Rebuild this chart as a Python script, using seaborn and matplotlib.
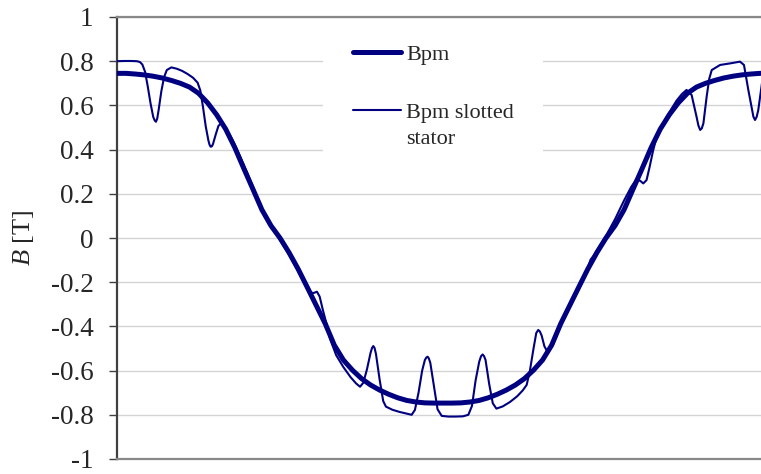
import matplotlib
matplotlib.use("Agg")
import matplotlib.pyplot as plt
from matplotlib.patches import Rectangle
from matplotlib.transforms import IdentityTransform
import pandas as pd
import seaborn as sns

# Rotor position (electrical degrees) and air-gap flux density of the magnets, smooth stator
angle_pm = list(range(0, 365, 5))
b_pm = [0.745, 0.745, 0.742, 0.738, 0.732, 0.724, 0.713, 0.700, 0.683, 0.655,
        0.612, 0.558, 0.493, 0.410, 0.315, 0.222, 0.128, 0.056, 0.000, -0.066,
        -0.140, -0.222, -0.305, -0.388, -0.485, -0.552, -0.598, -0.636, -0.665, -0.688,
        -0.707, -0.723, -0.735, -0.742, -0.746, -0.747, -0.747, -0.747, -0.746, -0.742,
        -0.735, -0.723, -0.707, -0.688, -0.665, -0.636, -0.598, -0.552, -0.485, -0.388,
        -0.305, -0.222, -0.140, -0.066, 0.000, 0.056, 0.128, 0.222, 0.315, 0.410,
        0.493, 0.558, 0.612, 0.655, 0.683, 0.700, 0.713, 0.724, 0.732, 0.738,
        0.742, 0.745, 0.745]

# Same field with the slotted stator
angle_slot = [0, 4, 8, 11, 12.7, 14, 15.5, 17, 18.5, 20, 20.8, 21.5, 22.2, 23, 24.5, 26,
              27.5, 30, 33, 36, 39, 42, 44.5, 46, 47.5, 49, 50.5, 51.1, 51.7, 52.4, 53,
              54.5, 56, 57.8, 60, 64, 68, 72, 76, 79, 81, 83, 86, 90, 95, 100, 104,
              106.5, 108.2, 110.4, 111.9, 113.5, 115.6, 117.6, 121, 125, 129, 132,
              134.2, 136, 138, 140, 140.8, 141.5, 142.2, 143, 145, 147, 148.5, 152,
              156, 160, 162.7, 164.5, 166.5, 168.5, 170, 170.8, 171.5, 172.2, 173,
              175, 177, 179.3, 183, 187, 191, 194, 196, 198, 200, 201, 201.9, 202.7,
              203.5, 205.5, 207.5, 209.5, 213, 217, 221, 224, 226.2, 228, 230, 231.5,
              232.6, 233.5, 234.5, 236, 238, 241, 245, 250, 255, 258, 260, 261.5, 263,
              266, 270, 275, 280, 284, 287, 289, 290.6, 292.4, 294, 296, 298, 303.5,
              309, 312, 314.5, 317.3, 320, 321, 322, 322.9, 323.8, 325.6, 327, 328.4,
              333, 338.5, 344, 346.2, 348.6, 351.4, 352.3, 353.2, 354.1, 355.6, 357,
              358.5, 360]
b_slot = [0.800, 0.801, 0.801, 0.800, 0.796, 0.785, 0.752, 0.685, 0.610, 0.548, 0.532,
          0.526, 0.540, 0.580, 0.665, 0.728, 0.760, 0.772, 0.766, 0.756, 0.742, 0.725,
          0.703, 0.668, 0.592, 0.505, 0.440, 0.422, 0.413, 0.415, 0.425, 0.468, 0.507,
          0.522, 0.500, 0.440, 0.368, 0.293, 0.212, 0.158, 0.108, 0.078, 0.045,
          -0.008, -0.075, -0.150, -0.212, -0.242, -0.250, -0.243, -0.265, -0.320,
          -0.386, -0.455, -0.530, -0.584, -0.630, -0.658, -0.673, -0.655, -0.595,
          -0.520, -0.498, -0.489, -0.497, -0.525, -0.640, -0.738, -0.763, -0.777,
          -0.787, -0.795, -0.800, -0.778, -0.700, -0.600, -0.552, -0.541, -0.537,
          -0.545, -0.565, -0.670, -0.775, -0.805, -0.808, -0.808, -0.807, -0.800,
          -0.760, -0.645, -0.560, -0.535, -0.527, -0.535, -0.552, -0.660, -0.748,
          -0.772, -0.762, -0.742, -0.716, -0.690, -0.665, -0.600, -0.500, -0.430,
          -0.416, -0.423, -0.442, -0.490, -0.520, -0.478, -0.395, -0.310, -0.232,
          -0.180, -0.135, -0.098, -0.082, -0.042, 0.010, 0.085, 0.170, 0.232, 0.268,
          0.258, 0.247, 0.262, 0.318, 0.395, 0.458, 0.549, 0.622, 0.652, 0.670,
          0.647, 0.549, 0.510, 0.489, 0.496, 0.519, 0.640, 0.720, 0.760, 0.783,
          0.790, 0.798, 0.783, 0.670, 0.549, 0.534, 0.548, 0.579, 0.670, 0.750,
          0.792, 0.800]

y_ticks = [1.0, 0.8, 0.6, 0.4, 0.2, 0.0, -0.2, -0.4, -0.6, -0.8, -1.0]
y_tick_labels = ["1", "0.8", "0.6", "0.4", "0.2", "0", "-0.2", "-0.4", "-0.6", "-0.8", "-1"]
legend_labels = ["Bpm", "Bpm slotted stator"]

NAVY = "#000080"

sns.set_style("white")
plt.rcParams["font.family"] = ["Liberation Serif", "DejaVu Serif"]
plt.rcParams["mathtext.fontset"] = "custom"
plt.rcParams["mathtext.rm"] = "Liberation Serif"
plt.rcParams["mathtext.it"] = "Liberation Serif:italic"

W, H = 761, 474
fig = plt.figure(figsize=(W / 100, H / 100), dpi=100)
ax = fig.add_axes([117 / W, 1 - 459 / H, (W - 117) / W, (459 - 17) / H])

pm = pd.DataFrame({"angle": angle_pm, "B": b_pm})
slot = pd.DataFrame({"angle": angle_slot, "B": b_slot})

sns.lineplot(data=pm, x="angle", y="B", ax=ax, color=NAVY, linewidth=3.6,
             estimator=None, sort=False, label=legend_labels[0], zorder=3,
             solid_joinstyle="round")
sns.lineplot(data=slot, x="angle", y="B", ax=ax, color=NAVY, linewidth=1.5,
             estimator=None, sort=False, label=legend_labels[1], zorder=4,
             solid_joinstyle="round")

ax.set_xlim(0, 355.6)
ax.set_ylim(-1, 1)
ax.set_xticks([])
ax.set_xlabel("")
ax.set_yticks(y_ticks)
ax.set_yticklabels(y_tick_labels, fontsize=19.5)
ax.set_ylabel(r"$\mathit{B}$ [T]", fontsize=19)
ax.yaxis.set_label_coords(-(117 - 36) / (W - 117), 0.5)

ax.set_axisbelow(True)
ax.grid(axis="y", color="#d4d4d4", linewidth=1.0)
ax.tick_params(axis="y", direction="out", length=6, width=1.0, color="#404040",
               pad=11, left=True)

ax.spines["left"].set_color("#404040")
ax.spines["left"].set_linewidth(1.6)
ax.spines["bottom"].set_color("#888888")
ax.spines["bottom"].set_linewidth(1.6)
ax.spines["top"].set_color("#888888")
ax.spines["top"].set_linewidth(1.6)
ax.spines["right"].set_visible(False)

# white background behind the legend
ax.add_patch(Rectangle((323 / W, 1 - 158 / H), 220 / W, 132 / H,
                       transform=fig.transFigure, facecolor="white",
                       edgecolor="none", zorder=1))

head, tail = legend_labels[1].rsplit(" ", 1)
handles = ax.get_lines()[:2]
leg = ax.legend(handles, [legend_labels[0], head], loc="upper left",
                bbox_to_anchor=(353 / W, 1 - 44 / H), bbox_transform=fig.transFigure,
                frameon=False, fontsize=16, handlelength=2.15, handletextpad=0.25,
                labelspacing=1.69, borderpad=0, borderaxespad=0)

fig.canvas.draw()
ext = leg.get_texts()[1].get_window_extent(fig.canvas.get_renderer())
fig.text(ext.x0, ext.y0 - 26.5, tail, fontsize=16, va="bottom", ha="left",
         transform=IdentityTransform())

fig.savefig("out.png", dpi=100)
